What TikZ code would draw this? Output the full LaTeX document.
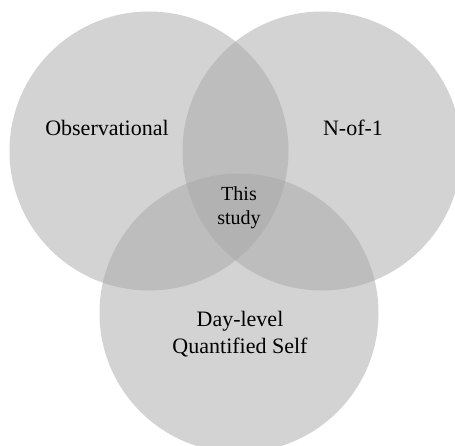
\documentclass[tikz,border=0pt]{standalone}
\usepackage{fontspec}
\setmainfont{Liberation Serif}
\usetikzlibrary{positioning}
\definecolor{setgray}{gray}{0.655}
\begin{document}
\begin{tikzpicture}[x=1pt,y=-1pt]
\tikzstyle{set}=[circle,fill=setgray,fill opacity=0.5,inner sep=0pt,minimum size=279pt]
\tikzstyle{lbl}=[align=center,font=\fontsize{22}{27}\selectfont]
\useasboundingbox (0,0) rectangle (455,446);
\clip (0,0) rectangle (455,446);
% the three sets
\node[set] (obs) at (149,151) {};
\node[set] (nof) at (322,151) {};
\node[set] (day) at (239,313) {};
% labels
\node[lbl] (obslbl) at (107,128) {Observational};
\node[lbl] (noflbl) at (353,128) {N-of-1};
\node[lbl] (daylbl) at (240,334) {Day-level\\Quantified Self};
\node[lbl,font=\fontsize{20}{24}\selectfont] (study) at (239,208) {This\\study};
\end{tikzpicture}
\end{document}
